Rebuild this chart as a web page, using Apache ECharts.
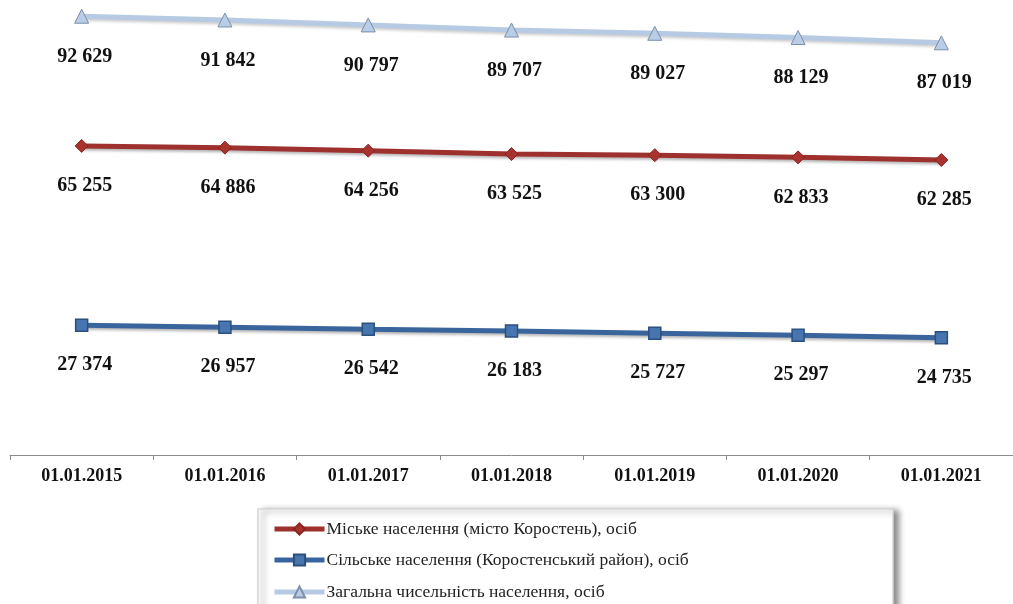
<!DOCTYPE html>
<html>
<head>
<meta charset="utf-8">
<script src="https://cdn.jsdelivr.net/npm/echarts@6/dist/echarts.min.js"></script>
<style>html,body{margin:0;padding:0;background:#fff;}#c{width:1013px;height:604px;}</style>
</head>
<body>
<div id="c"></div>
<script>
const categories = ['01.01.2015','01.01.2016','01.01.2017','01.01.2018','01.01.2019','01.01.2020','01.01.2021'];
const urbanName = 'Міське населення (місто Коростень), осіб';
const ruralName = 'Сільське населення (Коростенський район), осіб';
const totalName = 'Загальна чисельність населення, осіб';
const urban = [65255, 64886, 64256, 63525, 63300, 62833, 62285];
const rural = [27374, 26957, 26542, 26183, 25727, 25297, 24735];
const total = [92629, 91842, 90797, 89707, 89027, 88129, 87019];

const fmt = v => String(v).replace(/\B(?=(\d{3})+(?!\d))/g, ' ');
const serif = '"Liberation Serif", "Times New Roman", serif';
const lbl = {
  show: true, position: 'bottom', distance: 23, offset: [3, 0],
  fontFamily: serif, fontWeight: 'bold', fontSize: 20, color: '#111',
  formatter: p => fmt(p.value)
};
const legendBase = (name, top) => ({
  orient: 'horizontal', left: 272, top: top, padding: 0,
  itemWidth: 50, itemHeight: 14,
  lineStyle: {width: 5},
  textStyle: {fontFamily: serif, fontSize: 17.5, color: '#222', padding: [0, 0, 0, -3]},
  data: [name]
});

const chart = echarts.init(document.getElementById('c'), null, {renderer: 'canvas'});
chart.setOption({
  animation: false,
  backgroundColor: '#fff',
  grid: {left: 10, top: 5, width: 1006, bottom: 149, containLabel: false},
  graphic: [{
    type: 'rect', z: -1,
    shape: {x: 258, y: 509, width: 635, height: 110},
    style: {fill: '#fff', stroke: '#d6d6d6', lineWidth: 1.5,
      shadowBlur: 6, shadowOffsetX: 5, shadowOffsetY: 2, shadowColor: 'rgba(0,0,0,0.45)'}
  }],
  legend: [
    legendBase(urbanName, 520),
    legendBase(ruralName, 551),
    legendBase(totalName, 583)
  ],
  xAxis: {
    type: 'category', data: categories, boundaryGap: true,
    axisLine: {lineStyle: {color: '#8c8c8c', width: 1}},
    axisTick: {show: true, length: 5, lineStyle: {color: '#8c8c8c'}},
    axisLabel: {fontFamily: serif, fontWeight: 'bold', fontSize: 18, color: '#111', margin: 12}
  },
  yAxis: {
    type: 'value', min: 0, max: 95000, show: false,
    splitLine: {show: false}
  },
  series: [
    {
      name: urbanName, type: 'line', data: urban,
      symbol: 'diamond', symbolSize: 13,
      lineStyle: {color: '#9e302d', width: 5, shadowBlur: 3, shadowColor: 'rgba(0,0,0,0.3)', shadowOffsetY: 2},
      itemStyle: {color: '#a8322e', borderColor: '#8a2522', borderWidth: 1},
      label: lbl
    },
    {
      name: ruralName, type: 'line', data: rural,
      symbol: 'rect', symbolSize: 12,
      lineStyle: {color: '#3a659c', width: 5, shadowBlur: 3, shadowColor: 'rgba(0,0,0,0.3)', shadowOffsetY: 2},
      itemStyle: {color: '#4675b0', borderColor: '#2c4f7c', borderWidth: 1.5},
      label: lbl
    },
    {
      name: totalName, type: 'line', data: total,
      symbol: 'triangle', symbolSize: 14,
      lineStyle: {color: '#b7cae3', width: 5, shadowBlur: 3, shadowColor: 'rgba(0,0,0,0.2)', shadowOffsetY: 2},
      itemStyle: {color: '#b9cde6', borderColor: '#7d8fa8', borderWidth: 1},
      label: lbl
    }
  ]
});
</script>
</body>
</html>
